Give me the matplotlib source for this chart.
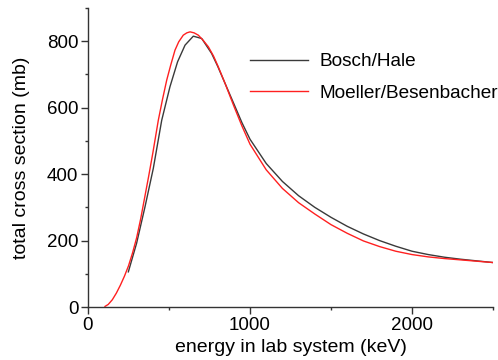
import matplotlib
matplotlib.use("Agg")
import matplotlib.pyplot as plt
from matplotlib.ticker import MultipleLocator

plt.rcParams['font.family'] = ['Liberation Sans', 'DejaVu Sans']

# Bosch/Hale (black)
bh_E = [249, 300, 352, 403, 455, 506, 553, 599, 650, 702, 763, 800, 846, 900, 950,
        1000, 1100, 1200, 1300, 1400, 1500, 1600, 1700, 1800, 1900, 2000, 2100,
        2200, 2300, 2400, 2500]
bh_S = [106, 192, 302, 417, 562, 663, 738, 788, 815, 808, 763, 725, 673, 612, 555,
        505, 432, 378, 335, 300, 270, 243, 220, 200, 183, 168, 158,
        150, 144, 139, 134]

# Moeller/Besenbacher (red)
mb_E = [105, 125, 150, 175, 200, 225, 250, 275, 300, 325, 350, 375, 400, 434, 460,
        486, 510, 537, 560, 588, 610, 630, 655, 681, 710, 743, 775, 804, 846, 900,
        950, 1000, 1100, 1200, 1300, 1400, 1500, 1600, 1700, 1800, 1900, 2000,
        2100, 2200, 2300, 2400, 2500]
mb_S = [2, 8, 22, 42, 66, 93, 124, 163, 208, 265, 330, 395, 463, 562, 625,
        683, 727, 773, 798, 818, 825, 828, 825, 818, 803, 783, 755, 723, 673, 605,
        545, 490, 413, 357, 314, 280, 248, 222, 199, 182, 168, 158,
        151, 146, 142, 138, 134]

fig = plt.figure(figsize=(4.98, 3.6), dpi=100)
ax = fig.add_axes([0.1767, 0.147, 0.8133, 0.831])

ax.plot(bh_E, bh_S, color='#3a3a3a', lw=1.0, label='Bosch/Hale')
ax.plot(mb_E, mb_S, color='#ff2020', lw=1.0, label='Moeller/Besenbacher')

ax.set_xlim(0, 2500)
ax.set_ylim(0, 900)
ax.xaxis.set_major_locator(MultipleLocator(1000))
ax.xaxis.set_minor_locator(MultipleLocator(500))
ax.yaxis.set_major_locator(MultipleLocator(200))
ax.yaxis.set_minor_locator(MultipleLocator(100))

for s in ['top', 'right']:
    ax.spines[s].set_visible(False)
for s in ['left', 'bottom']:
    ax.spines[s].set_color('#333333')
    ax.spines[s].set_linewidth(1.0)

ax.tick_params(which='major', direction='out', length=5, width=1, color='#333333',
               labelsize=13.5, pad=2)
ax.tick_params(which='minor', direction='out', length=2.5, width=1, color='#333333')

ax.set_xlabel('energy in lab system (keV)', fontsize=14, labelpad=4)
ax.set_ylabel('total cross section (mb)', fontsize=14, labelpad=12)

ax.legend(loc='upper left', bbox_to_anchor=(0.358, 0.906), frameon=False,
          fontsize=13.7, handlelength=3.05, handletextpad=0.58, labelspacing=0.75)

fig.savefig('out.png', dpi=100)
